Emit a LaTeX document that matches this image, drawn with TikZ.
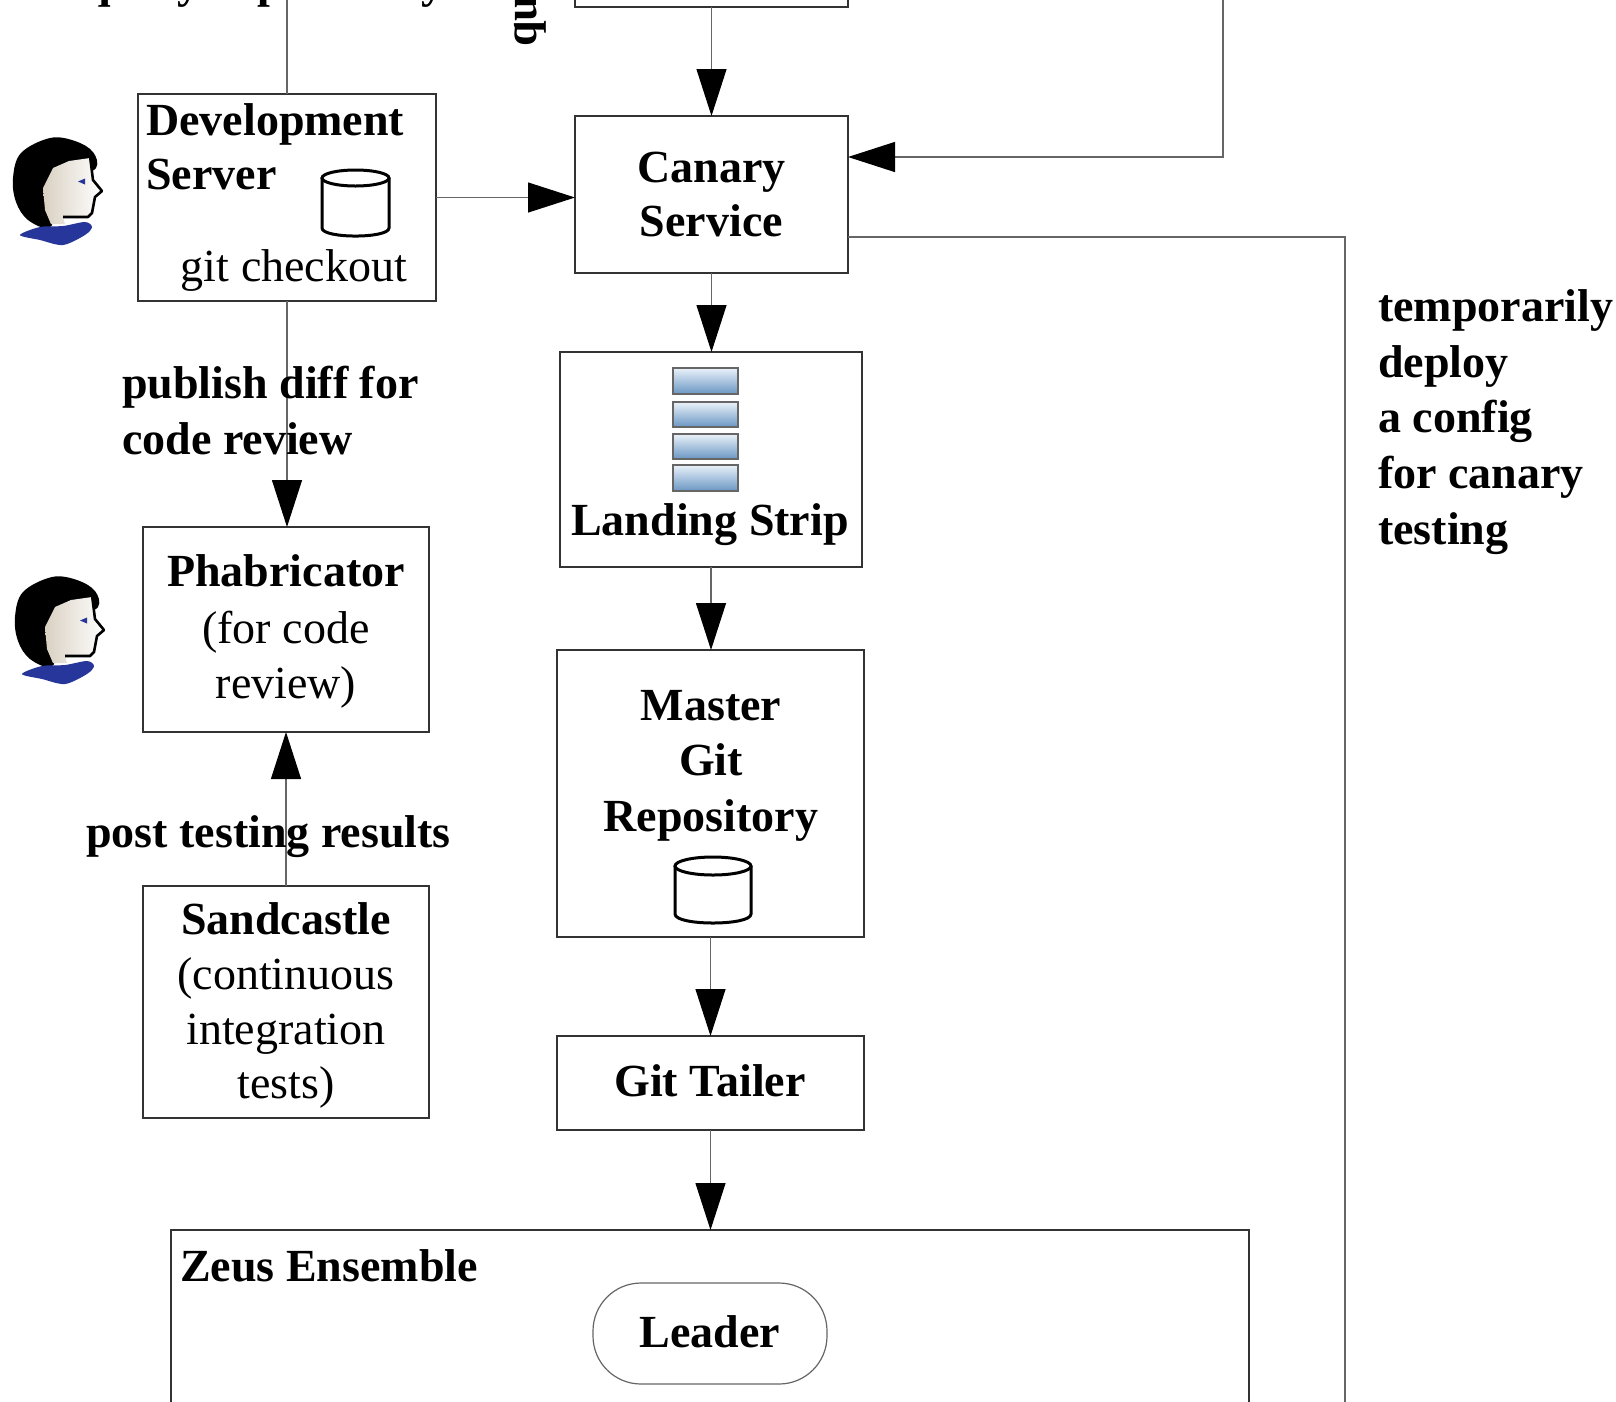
\documentclass[tikz,border=0pt]{standalone}
\usepackage{fontspec}
\setmainfont{Liberation Serif}
\usetikzlibrary{arrows.meta}

\definecolor{boxline}{HTML}{333333}
\definecolor{connline}{HTML}{666666}
\definecolor{collarblue}{HTML}{27369A}
\definecolor{skin}{HTML}{D9D0C2}
\definecolor{stripTop}{HTML}{EAF2F9}
\definecolor{stripBot}{HTML}{6A96C4}

\tikzset{
  box/.style={rectangle, draw=boxline, line width=1.6pt, inner sep=0pt, outer sep=0pt},
  txt/.style={inner sep=0pt, font=\fontsize{46}{55}\selectfont},
  btxt/.style={inner sep=0pt, font=\fontsize{46}{55}\selectfont\bfseries},
  conn/.style={draw=connline, line width=1.2pt},
  arr/.style={conn, -{Triangle[length=47pt,width=30pt,color=black]}},
  cyl/.style={draw=black, line width=3pt},
  person/.pic={
    % hair
    \fill[black] plot[smooth cycle, tension=0.6] coordinates
      {(37,0) (62,3) (80,14) (83,30) (62,42) (44,72) (36,90) (15,82) (3,64) (0,40) (8,15)};
    % face
    \shade[left color=skin, right color=white]
      (77,20) -- (80,42) -- (89,53) -- (82,59) -- (79,75) -- (75,79) -- (50,79)
      -- (52,86) -- (38,86) -- (32,72) -- (30,50) -- (40,30) -- (56,23) -- cycle;
    % profile outline
    \draw[black, line width=2.6pt, line join=round]
      (77,18) -- (80,42) -- (89,53) -- (82,59) -- (79,75) -- (75,79) -- (50,79);
    % eye
    \fill[collarblue] (65,43.5) -- (72,40.5) -- (72,46.5) -- cycle;
    % collar
    \fill[collarblue] plot[smooth cycle, tension=0.5] coordinates
      {(7,97) (27,89) (50,88) (72,84) (79,89) (72,97) (50,107) (27,102)};
  }
}

\begin{document}
\begin{tikzpicture}[x=1pt, y=-1pt]
\useasboundingbox (0,0) rectangle (1616,1401);
\fill[white] (0,0) rectangle (1616,1401);
\clip (0,0) rectangle (1616,1401);

% ---- boxes ----
\node[box, minimum width=273pt, minimum height=117pt] (dep)     at (711.5,-51.5) {};
\node[box, minimum width=298pt, minimum height=207pt] (dev)     at (287,197.5) {};
\node[box, minimum width=273pt, minimum height=157pt] (canary)  at (711.5,194.5) {};
\node[box, minimum width=302pt, minimum height=215pt] (landing) at (711,459.5) {};
\node[box, minimum width=307pt, minimum height=287pt] (master)  at (710.5,793.5) {};
\node[box, minimum width=307pt, minimum height=94pt]  (tailer)  at (710.5,1083) {};
\node[box, minimum width=1078pt, minimum height=270pt] (zeus)   at (710,1365) {};
\node[rectangle, draw=connline, line width=1.2pt, rounded corners=48pt,
      minimum width=234pt, minimum height=101pt, inner sep=0pt] (leader) at (710,1333.5) {};
\node[box, minimum width=286pt, minimum height=205pt] (phab)    at (286,629.5) {};
\node[box, minimum width=286pt, minimum height=232pt] (sand)    at (286,1002) {};

% ---- box texts ----
\node[btxt, anchor=base west] (devA) at (146,135) {Development};
\node[btxt, anchor=base west] (devB) at (146,189) {Server};
\node[txt,  anchor=base]      (devC) at (294,281) {git checkout};

\node[btxt, anchor=base] (canA) at (711.5,182) {Canary};
\node[btxt, anchor=base] (canB) at (711.5,236) {Service};

\node[btxt, anchor=base] (landA) at (710,535) {Landing Strip};

\node[btxt, anchor=base] (mA) at (711,720) {Master};
\node[btxt, anchor=base] (mB) at (711,775) {Git};
\node[btxt, anchor=base] (mC) at (711,831) {Repository};

\node[btxt, anchor=base] (tA) at (710,1096) {Git Tailer};

\node[btxt, anchor=base west] (zA) at (180,1281) {Zeus Ensemble};
\node[btxt, anchor=base] (lA) at (710,1347) {Leader};

\node[btxt, anchor=base] (pA) at (286,586) {Phabricator};
\node[txt,  anchor=base] (pB) at (286,643) {(for code};
\node[txt,  anchor=base] (pC) at (286,698) {review)};

\node[btxt, anchor=base] (sA) at (286,934) {Sandcastle};
\node[txt,  anchor=base] (sB) at (286,989) {(continuous};
\node[txt,  anchor=base] (sC) at (286,1044) {integration};
\node[txt,  anchor=base] (sD) at (286,1098) {tests)};

% ---- storage icons ----
\fill[white] (322,178) -- (322,228) .. controls (322,238.7) and (389,238.7) .. (389,228) -- (389,178) -- cycle;
\draw[cyl] (322,178) -- (322,228) .. controls (322,238.7) and (389,238.7) .. (389,228) -- (389,178);
\draw[cyl] (355.5,178) ellipse [x radius=33.5pt, y radius=8pt];

\draw[cyl] (675,866) -- (675,914) .. controls (675,926) and (751,926) .. (751,914) -- (751,866);
\draw[cyl] (713,866) ellipse [x radius=38pt, y radius=9pt];

% ---- landing strip queue ----
\foreach \ya/\yb in {368/394, 402/427, 434/459, 465/491}{
  \shade[top color=stripTop, bottom color=stripBot] (673,\ya) rectangle (738,\yb);
  \draw[draw=black!60, line width=1.2pt] (673,\ya) rectangle (738,\yb);
}

% ---- people ----
\pic at (13,138) {person};
\pic at (15,577) {person};

% ---- free ends of connectors ----
\coordinate (qtop) at (287,-20);
\coordinate (rin)  at (1223,-20);
\coordinate (rturn) at (1223,157);
\coordinate (cout) at (1345,237);
\coordinate (cend) at (1345,1420);

% ---- connectors ----
\draw[conn] (dev.north) -- (qtop);
\draw[arr] (dep.south) -- (dep.south |- canary.north);
\draw[arr] (rin) -- (rturn) -- (canary.east |- rturn);
\draw[arr] (dev.east) -- (canary.west |- dev.east);
\draw[conn] (canary.east |- cout) -- (cout) -- (cend);
\draw[arr] (canary.south) -- (canary.south |- landing.north);
\draw[arr] (landing.south) -- (landing.south |- master.north);
\draw[arr] (master.south) -- (master.south |- tailer.north);
\draw[arr] (tailer.south) -- (tailer.south |- zeus.north);
\draw[arr] (dev.south) -- (dev.south |- phab.north);
\draw[arr] (sand.north) -- (sand.north |- phab.south);

% ---- edge labels ----
\node[btxt, anchor=base west] (lq) at (85,-3) {query dependency};
\node[btxt, anchor=base west, rotate=90] (lq2) at (536,47) {query};
\node[btxt, anchor=base west] (lp1) at (122,398) {publish diff for};
\node[btxt, anchor=base west] (lp2) at (122,454) {code review};
\node[btxt, anchor=base west] (lt)  at (86,847) {post testing results};
\node[btxt, anchor=base west] (d1) at (1378,321) {temporarily};
\node[btxt, anchor=base west] (d2) at (1378,377) {deploy};
\node[btxt, anchor=base west] (d3) at (1378,432) {a config};
\node[btxt, anchor=base west] (d4) at (1378,488) {for canary};
\node[btxt, anchor=base west] (d5) at (1378,544) {testing};
\end{tikzpicture}
\end{document}
